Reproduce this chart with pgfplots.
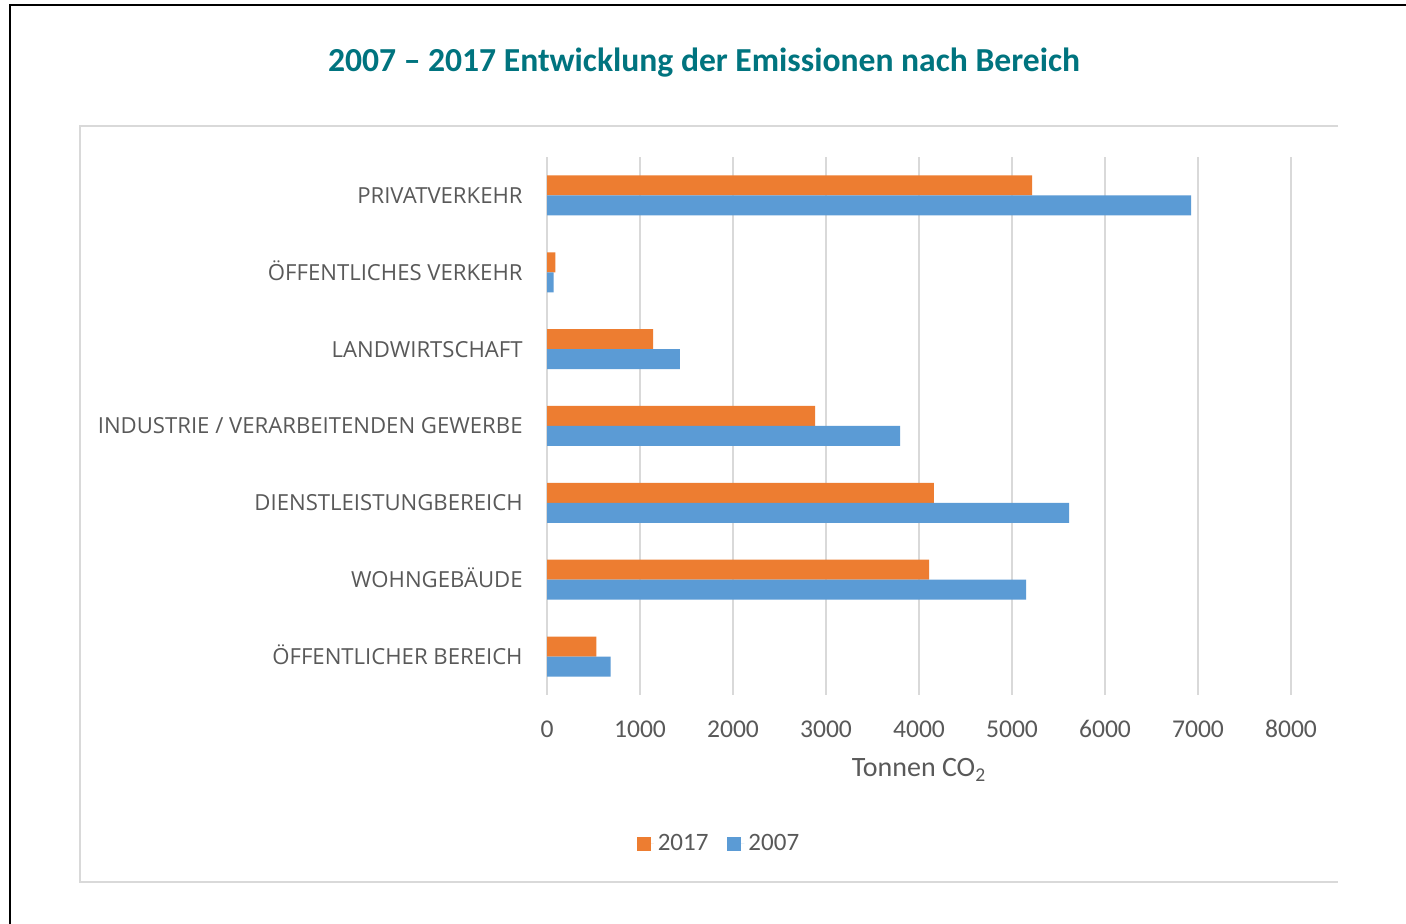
\documentclass[border=0pt]{standalone}
\usepackage{pgfplots}
\pgfplotsset{compat=1.18}
\usepackage{fontspec}
\setmainfont{Carlito}
\newfontfamily\osans{Open Sans}
\definecolor{c17}{HTML}{ED7D31}
\definecolor{c07}{HTML}{5B9BD5}
\definecolor{gridc}{HTML}{D9D9D9}
\definecolor{txt}{HTML}{595959}
\definecolor{ttl}{HTML}{00747F}
\begin{document}
\begin{tikzpicture}
\useasboundingbox (0,0) rectangle (703pt,462pt);
\fill[white] (0,0) rectangle (703pt,462pt);
\draw[black, line width=1.3pt] (5pt,-20pt) -- (5pt,459.5pt) -- (720pt,459.5pt);
\draw[gridc, line width=1pt] (669pt,399pt) -- (40pt,399pt) -- (40pt,21pt) -- (669pt,21pt);
\node[anchor=base, inner sep=0pt, font=\fontsize{16.8}{20}\selectfont\bfseries, text=ttl] at (352pt,426pt) {2007 – 2017 Entwicklung der Emissionen nach Bereich};
\begin{axis}[
  at={(273.5pt,114.5pt)}, anchor=south west,
  scale only axis, width=372pt, height=269pt,
  xbar, bar width=10pt,
  xmin=0, xmax=8000, ymin=-0.5, ymax=6.5,
  axis line style={draw=none},
  major tick length=0pt,
  xmajorgrids, major grid style={draw=gridc, line width=1pt},
  xtick={0,1000,...,8000},
  ytick={0,...,6},
  yticklabels={ÖFFENTLICHER BEREICH, WOHNGEBÄUDE, DIENSTLEISTUNGBEREICH, INDUSTRIE / VERARBEITENDEN GEWERBE, LANDWIRTSCHAFT, ÖFFENTLICHES VERKEHR, PRIVATVERKEHR},
  scaled x ticks=false,
  /pgf/number format/assume math mode=true,
  /pgf/number format/1000 sep={},
  xticklabel style={font=\fontsize{12.8}{15}\selectfont, text=txt, anchor=base, inner sep=0pt, yshift=-21.5pt},
  yticklabel style={font=\osans\fontsize{11.07}{13}\selectfont, text=txt, anchor=base east, inner sep=0pt, xshift=-12pt, yshift=-4pt},
  xlabel={Tonnen CO\textsubscript{2}},
  xlabel style={at={(axis description cs:0.5,0)}, anchor=base, inner sep=0pt, yshift=-41pt, font=\fontsize{14}{16}\selectfont, text=txt},
  legend style={at={(axis description cs:0.2325,-0.2769)}, anchor=center, draw=none, fill=none, legend columns=2, font=\fontsize{12.5}{15}\selectfont, text=txt, /tikz/every even column/.append style={column sep=7.5pt}},
  legend image code/.code={\fill[#1] (0pt,-3.5pt) rectangle (7pt,3.5pt); \path (0pt,0pt) -- (8.5pt,0pt);},
]
\addplot[fill=c17, draw=none, bar shift=5pt] coordinates {(530,0) (4108,1) (4161,2) (2882,3) (1140,4) (90,5) (5215,6)};
\addplot[fill=c07, draw=none, bar shift=-5pt] coordinates {(685,0) (5151,1) (5613,2) (3796,3) (1430,4) (70,5) (6925,6)};
\legend{2017,2007}
\end{axis}
\end{tikzpicture}
\end{document}
